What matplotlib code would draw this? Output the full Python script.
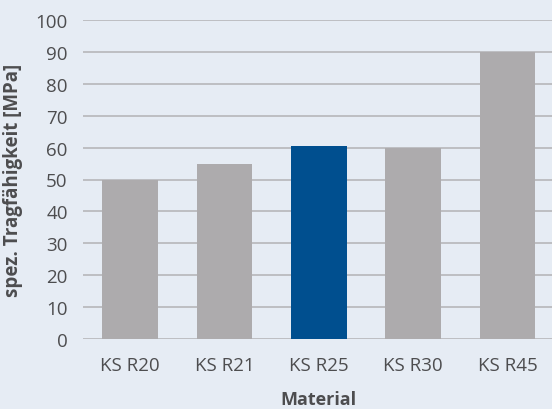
import matplotlib
matplotlib.use("Agg")
import matplotlib.pyplot as plt
from matplotlib.ticker import MultipleLocator

matplotlib.rcParams['font.family'] = ['Open Sans', 'DejaVu Sans']

materials = ['KS R20', 'KS R21', 'KS R25', 'KS R30', 'KS R45']
tragfaehigkeit = [50, 55, 60.5, 60, 90]
highlight = 'KS R25'

bg = '#e6ecf4'
grey = '#adabad'
blue = '#004f8f'
text_col = '#4d4d4f'

fig = plt.figure(figsize=(5.52, 4.10), dpi=100, facecolor=bg)
axis = fig.add_axes([83 / 552, 1 - 340 / 410, 1 - 83 / 552 + 0.005, (340 - 21) / 410])
axis.set_facecolor(bg)

colors = [blue if m == highlight else grey for m in materials]
axis.bar(materials, tragfaehigkeit, width=0.59, color=colors, zorder=3)

axis.set_ylim(0, 100)
axis.set_xlim(-0.5, len(materials) - 0.5)
axis.yaxis.set_major_locator(MultipleLocator(10))
axis.grid(True, axis='y', color='#b6b6ba', linewidth=1.2, zorder=0)
axis.grid(False, axis='x')

for s in axis.spines.values():
    s.set_visible(False)
axis.tick_params(length=0, labelsize=13.5, labelcolor=text_col)
axis.tick_params(axis='y', pad=11)
axis.tick_params(axis='x', pad=12)

axis.set_xlabel('Material', fontsize=13, fontweight='bold', color=text_col, labelpad=12)
axis.set_ylabel('spez. Tragfähigkeit [MPa]', fontsize=13.5, fontweight='bold', color=text_col, labelpad=9)

fig.savefig('out.png', dpi=100, facecolor=bg)
